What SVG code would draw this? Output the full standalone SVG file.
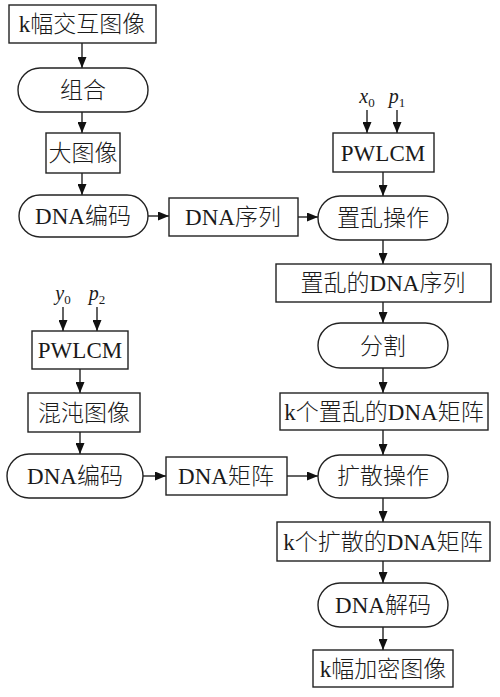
<svg xmlns="http://www.w3.org/2000/svg" width="500" height="697" viewBox="0 0 500 697">
<defs>
<marker id="ah" markerUnits="userSpaceOnUse" markerWidth="11" markerHeight="9" refX="11" refY="4.5" orient="auto">
<path d="M0,0 L11,4.5 L0,9 z" fill="#111"/>
</marker>
<style>
.box{fill:#fff;stroke:#222;stroke-width:1.4}
.t{font-family:"Liberation Serif","Noto Sans CJK SC",serif;font-size:23px;font-weight:300;fill:#1a1a1a;text-anchor:middle}
.v{font-family:"Liberation Serif",serif;font-size:20px;font-style:italic;fill:#1a1a1a;text-anchor:middle}
.s{font-size:13px;font-style:normal}
.c{fill:none;stroke:#222;stroke-width:1.4;marker-end:url(#ah)}
</style>
</defs>
<rect width="500" height="697" fill="#fff"/>
<g id="connectors">
<line class="c" x1="82" y1="43" x2="82" y2="68"/>
<line class="c" x1="82" y1="112" x2="82" y2="133"/>
<line class="c" x1="82" y1="173" x2="82" y2="195"/>
<line class="c" x1="148" y1="216" x2="169" y2="216"/>
<line class="c" x1="298" y1="217" x2="318" y2="217"/>
<line class="c" x1="367" y1="110" x2="367" y2="133"/>
<line class="c" x1="397" y1="110" x2="397" y2="133"/>
<line class="c" x1="383" y1="172" x2="383" y2="196"/>
<line class="c" x1="383" y1="240" x2="383" y2="264"/>
<line class="c" x1="383" y1="302" x2="383" y2="323"/>
<line class="c" x1="383" y1="368" x2="383" y2="393"/>
<line class="c" x1="383" y1="430" x2="383" y2="455"/>
<line class="c" x1="383" y1="498" x2="383" y2="522"/>
<line class="c" x1="383" y1="561" x2="383" y2="583"/>
<line class="c" x1="383" y1="627" x2="383" y2="650"/>
<line class="c" x1="63" y1="307" x2="63" y2="331"/>
<line class="c" x1="97" y1="307" x2="97" y2="331"/>
<line class="c" x1="80" y1="369" x2="80" y2="393"/>
<line class="c" x1="80" y1="432" x2="80" y2="454"/>
<line class="c" x1="143" y1="476" x2="166" y2="476"/>
<line class="c" x1="287" y1="476" x2="318" y2="476"/>
</g>
<g id="n1"><rect class="box" x="9" y="5" width="147" height="38"/><text class="t" x="82" y="32">k幅交互图像</text></g>
<g id="n2"><rect class="box" x="18" y="68" width="130" height="44" rx="22"/><text class="t" x="83" y="98">组合</text></g>
<g id="n3"><rect class="box" x="46" y="133" width="74" height="40"/><text class="t" x="83" y="161">大图像</text></g>
<g id="n4"><rect class="box" x="19" y="195" width="129" height="42" rx="21"/><text class="t" x="83" y="224">DNA编码</text></g>
<g id="n5"><rect class="box" x="169" y="198" width="129" height="38"/><text class="t" x="233" y="225">DNA序列</text></g>
<g id="lx0"><text class="v" x="367" y="103">x<tspan class="s" dy="4">0</tspan></text></g>
<g id="lp1"><text class="v" x="397" y="103">p<tspan class="s" dy="4">1</tspan></text></g>
<g id="n6"><rect class="box" x="333" y="133" width="101" height="39"/><text class="t" x="383" y="161">PWLCM</text></g>
<g id="n7"><rect class="box" x="318" y="196" width="130" height="44" rx="22"/><text class="t" x="383" y="226">置乱操作</text></g>
<g id="n8"><rect class="box" x="276" y="264" width="215" height="38"/><text class="t" x="383" y="291">置乱的DNA序列</text></g>
<g id="n9"><rect class="box" x="318" y="323" width="130" height="45" rx="22.5"/><text class="t" x="383" y="354">分割</text></g>
<g id="n10"><rect class="box" x="280" y="393" width="208" height="37"/><text class="t" x="384" y="420">k个置乱的DNA矩阵</text></g>
<g id="n11"><rect class="box" x="318" y="455" width="130" height="43" rx="21.5"/><text class="t" x="383" y="484">扩散操作</text></g>
<g id="n12"><rect class="box" x="277" y="522" width="213" height="39"/><text class="t" x="383" y="550">k个扩散的DNA矩阵</text></g>
<g id="n13"><rect class="box" x="318" y="583" width="130" height="44" rx="22"/><text class="t" x="383" y="613">DNA解码</text></g>
<g id="n14"><rect class="box" x="313" y="650" width="140" height="37"/><text class="t" x="383" y="677">k幅加密图像</text></g>
<g id="ly0"><text class="v" x="63" y="300">y<tspan class="s" dy="4">0</tspan></text></g>
<g id="lp2"><text class="v" x="97" y="300">p<tspan class="s" dy="4">2</tspan></text></g>
<g id="n15"><rect class="box" x="32" y="331" width="96" height="38"/><text class="t" x="80" y="358">PWLCM</text></g>
<g id="n16"><rect class="box" x="28" y="393" width="112" height="39"/><text class="t" x="84" y="421">混沌图像</text></g>
<g id="n17"><rect class="box" x="7" y="454" width="136" height="44" rx="22"/><text class="t" x="75" y="484">DNA编码</text></g>
<g id="n18"><rect class="box" x="166" y="457" width="121" height="38"/><text class="t" x="226" y="484">DNA矩阵</text></g>
</svg>
